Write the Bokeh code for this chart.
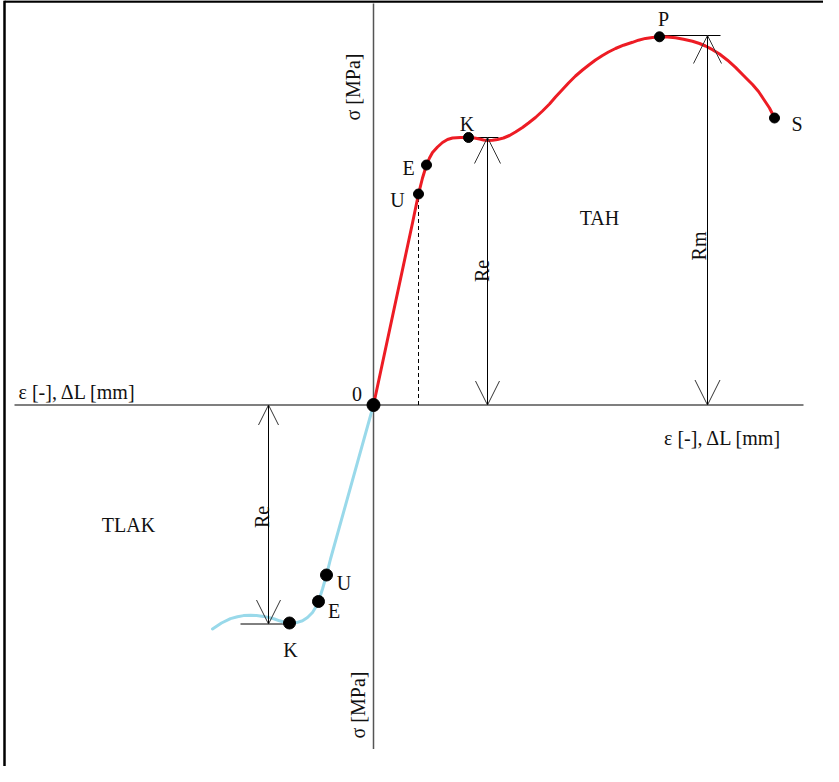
import math
from bokeh.plotting import figure
from bokeh.models import Range1d, Arrow, OpenHead
from bokeh.core.properties import value
from bokeh.embed import file_html
from bokeh.resources import INLINE

# ---- data (schematic units: strain / stress) ----
tension_strain = [0, 39, 45, 49, 53, 56, 59, 64, 69, 74, 79, 87, 95, 101, 106, 110,
                  114, 119, 124, 130, 136, 142, 149, 155, 162, 169, 176, 182, 189,
                  195, 202, 209, 216, 222, 229, 235, 242, 250, 259, 265, 272, 279,
                  286, 294, 302, 310, 319, 326, 332, 339, 346, 354, 362, 370, 379,
                  385, 390, 396, 401]
tension_stress = [0, 182, 211, 227, 240, 247, 252.5, 258, 262.5, 265.5, 267, 267.5,
                  267.5, 267, 266, 265, 264.5, 264.8, 265.5, 267, 269.5, 273, 277.5,
                  282, 287.5, 294, 301, 308, 315.5, 322, 329, 335, 340.5, 345,
                  349.5, 353, 356.5, 359.8, 362.7, 364.8, 366.6, 367.6, 368.2, 368,
                  367.2, 365.8, 363.8, 361.5, 359, 355.3, 351, 344.8, 337.6, 329.5,
                  320.5, 313.5, 306, 297, 287]

compression_strain = [0, -43, -47, -51, -55, -58, -61, -66, -71, -77, -84, -89, -94,
                      -99, -104, -110, -117, -123, -130, -136, -143, -152, -161]
compression_stress = [0, -154, -170, -184, -196.5, -202.5, -207.5, -212.5, -215.8,
                      -217.6, -218, -217.2, -215.8, -214, -212.6, -211.4, -210.6,
                      -210.3, -210.6, -211.8, -213.6, -218, -224]

tension_pt_labels = ["U", "E", "K", "P", "S"]
tension_pt_strain = [45, 53, 95, 286, 401]
tension_pt_stress = [211, 240, 267.5, 368.2, 287]

compression_pt_labels = ["U", "E", "K"]
compression_pt_strain = [-47, -55, -84]
compression_pt_stress = [-170, -196.5, -218]

Re_tension = 267.5
Rm = 369.5
Re_compression = -219

FONT = value("Liberation Serif")
RED = "#ed1c24"
BLUE = "#99d9ea"
TXT = "#111111"

p = figure(width=823, height=766,
           x_range=Range1d(-373, 450), y_range=Range1d(-361.5, 404.5),
           output_backend="svg", toolbar_location=None,
           x_axis_location=None, y_axis_location=None, min_border=0)
p.grid.visible = False
p.outline_line_color = None
p.background_fill_color = "white"
p.border_fill_color = "white"

# frame border (left and top)
p.line([-369, -369], [404.5, -361.5], line_color="black", line_width=2.5)
p.line([-369, 450], [403.5, 403.5], line_color="black", line_width=2.5)

# axes
p.line([-359, 430], [0, 0], line_color="#555555", line_width=1.5)
p.line([0, 0], [401.5, -344], line_color="#555555", line_width=1.5)

# dashed line from U to the strain axis
p.line([tension_pt_strain[0], tension_pt_strain[0]], [0, tension_pt_stress[0]],
       line_color="black", line_width=1, line_dash="4 3")

# Re / Rm dimension lines
p.line([102, 125], [Re_tension, Re_tension], line_color="black", line_width=1)
p.line([tension_pt_strain[3], 347], [Rm, Rm], line_color="black", line_width=1)
p.line([-133, compression_pt_strain[2]], [Re_compression, Re_compression],
       line_color="black", line_width=1)

def dim_arrow(x, y0, y1, s0, s1):
    p.add_layout(Arrow(x_start=x, y_start=y0, x_end=x, y_end=y1,
                       line_color="black", line_width=1,
                       start=OpenHead(size=s0, line_color="#333333", line_width=1),
                       end=OpenHead(size=s1, line_color="#333333", line_width=1)))

dim_arrow(114, 0, Re_tension, 24, 26)
dim_arrow(334, 0, Rm, 25, 28)
dim_arrow(-105, 0, Re_compression, 20, 24)

# curves
p.line(compression_strain, compression_stress, line_color=BLUE, line_width=3,
       line_join="round", line_cap="round")
p.line(tension_strain, tension_stress, line_color=RED, line_width=3,
       line_join="round", line_cap="round")

# points
p.scatter(tension_pt_strain, tension_pt_stress, size=10, color="black")
p.scatter(compression_pt_strain, compression_pt_stress, size=12, color="black")
p.scatter([0], [0], size=13, color="black")

# point labels
p.text(x=[24, 35, 93.5, 290, 423.5], y=[205, 237.5, 281, 386, 281.5],
       text=tension_pt_labels, text_font=FONT, text_font_size="20px",
       text_align="center", text_baseline="alphabetic", text_color=TXT)
p.text(x=[-29.5, -39.5, -83], y=[-177.5, -206, -245],
       text=compression_pt_labels, text_font=FONT, text_font_size="20px",
       text_align="center", text_baseline="alphabetic", text_color=TXT)

# other labels
p.text(x=[-355, 290.5], y=[13, -32.5], text=["ε [-], ΔL [mm]", "ε [-], ΔL [mm]"],
       text_font=FONT, text_font_size="20px", text_align="left",
       text_baseline="alphabetic", text_color=TXT)
p.text(x=[-11.5], y=[11], text=["0"], text_font=FONT, text_font_size="20px",
       text_align="right", text_baseline="alphabetic", text_color=TXT)
p.text(x=[226, -245], y=[187.5, -120], text=["TAH", "TLAK"], text_font=FONT,
       text_font_size="20px", text_align="center", text_baseline="alphabetic",
       text_color=TXT)
p.text(x=[-21, -16, 108.3, 325.7, -111.7], y=[318, -300, 134, 159, -112],
       text=["σ [MPa]", "σ [MPa]", "Re", "Rm", "Re"], angle=math.pi / 2,
       text_font=FONT, text_font_size="20px", text_align="center",
       text_baseline="alphabetic", text_color=TXT)

open("out.html", "w").write(file_html(p, INLINE))
